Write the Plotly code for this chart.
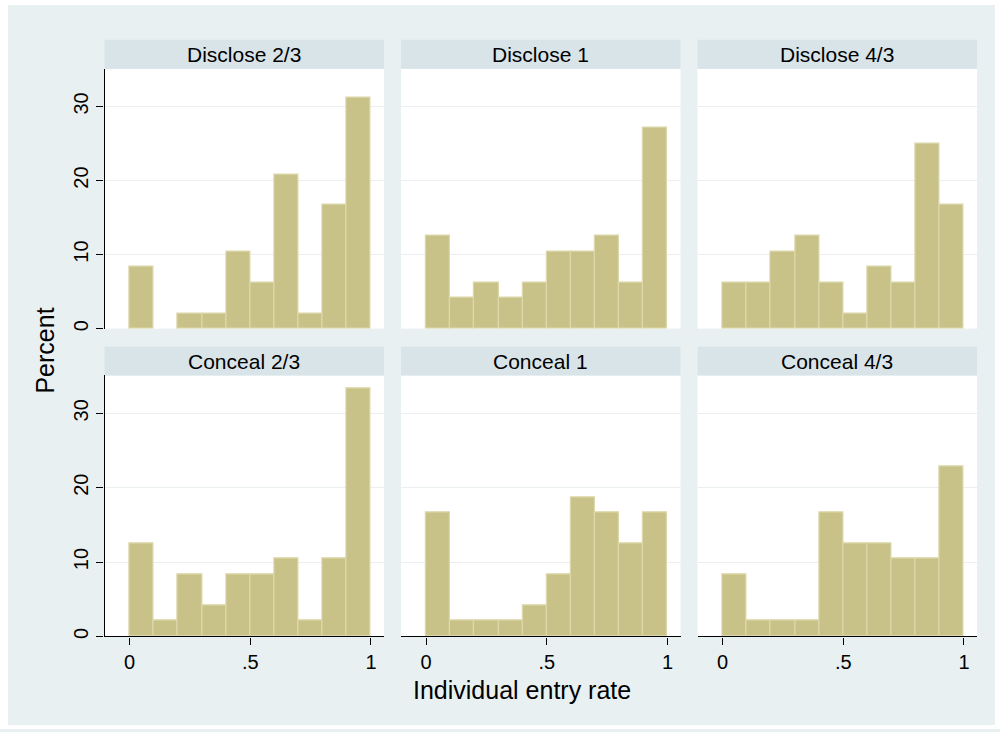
import plotly.graph_objects as go

# ---- data (percent per bin, bins of width 0.1 on [0,1]) ----
bin_centers = [0.05, 0.15, 0.25, 0.35, 0.45, 0.55, 0.65, 0.75, 0.85, 0.95]
panel_titles = ["Disclose 2/3", "Disclose 1", "Disclose 4/3",
                "Conceal 2/3", "Conceal 1", "Conceal 4/3"]
disclose_23 = [8.33, 0, 2.08, 2.08, 10.42, 6.25, 20.83, 2.08, 16.67, 31.25]
disclose_1 = [12.5, 4.17, 6.25, 4.17, 6.25, 10.42, 10.42, 12.5, 6.25, 27.08]
disclose_43 = [6.25, 6.25, 10.42, 12.5, 6.25, 2.08, 8.33, 6.25, 25.0, 16.67]
conceal_23 = [12.5, 2.08, 8.33, 4.17, 8.33, 8.33, 10.42, 2.08, 10.42, 33.33]
conceal_1 = [16.67, 2.08, 2.08, 2.08, 4.17, 8.33, 18.75, 16.67, 12.5, 16.67]
conceal_43 = [8.33, 2.08, 2.08, 2.08, 16.67, 12.5, 12.5, 10.42, 10.42, 22.92]
y_tick_vals = [0, 10, 20, 30]
x_tick_vals = [0, 0.5, 1]
x_tick_text = ["0", ".5", "1"]
x_title = "Individual entry rate"
y_title = "Percent"

series = [disclose_23, disclose_1, disclose_43, conceal_23, conceal_1, conceal_43]

W, H = 1000, 732
BG = "#E8F0F2"
STRIP = "#D9E4E9"
GRID = "#EAF0F2"
BAR = "#C9C288"
BAR_LINE = "#DDD7AA"
FONT = "Liberation Sans, Arial, Helvetica, sans-serif"

col_px = [(104.5, 384.0), (401.0, 680.5), (697.5, 977.0)]
row_px = [(69.0, 330.0), (377.0, 639.0)]   # plot area top/bottom in px
strip_px = [(40.0, 69.0), (348.0, 377.0)]


def px_x(v):
    return v / W


def px_y(v):
    return 1 - v / H


fig = go.Figure()
shapes = []
annotations = []

for i, vals in enumerate(series):
    r, c = divmod(i, 3)
    n = i + 1
    xa = "x" if n == 1 else f"x{n}"
    ya = "y" if n == 1 else f"y{n}"
    fig.add_trace(go.Bar(
        x=bin_centers, y=[v if v > 0 else None for v in vals], width=0.1,
        marker=dict(color=BAR, line=dict(color=BAR_LINE, width=1.2)),
        xaxis=xa, yaxis=ya, showlegend=False, hoverinfo="x+y",
    ))
    x0, x1 = col_px[c]
    t, b = row_px[r]
    xkey = "xaxis" if n == 1 else f"xaxis{n}"
    ykey = "yaxis" if n == 1 else f"yaxis{n}"
    bottom = r == 1
    left = c == 0
    fig.layout[xkey] = dict(
        domain=[px_x(x0), px_x(x1)], anchor=ya, range=[-0.104, 1.054],
        showgrid=False, zeroline=False,
        showline=bottom, linecolor="black", linewidth=1.3,
        ticks="outside" if bottom else "", ticklen=7, tickcolor="black", tickwidth=1,
        tickvals=x_tick_vals, ticktext=x_tick_text, showticklabels=bottom,
        tickfont=dict(family=FONT, size=20, color="black"),
        fixedrange=True,
    )
    fig.layout[ykey] = dict(
        domain=[px_y(b), px_y(t)], anchor=xa, range=[0, 35.1],
        showgrid=True, gridcolor=GRID, gridwidth=1.3, zeroline=False,
        showline=left, linecolor="black", linewidth=1.3,
        ticks="outside" if left else "", ticklen=7, tickcolor="black", tickwidth=1,
        tickvals=y_tick_vals, showticklabels=left, tickangle=-90,
        tickfont=dict(family=FONT, size=20, color="black"),
        fixedrange=True,
    )
    # strip header
    st, sb = strip_px[r]
    shapes.append(dict(type="rect", xref="paper", yref="paper", layer="below",
                       x0=px_x(x0), x1=px_x(x1), y0=px_y(sb), y1=px_y(st),
                       fillcolor=STRIP, line=dict(width=0)))
    annotations.append(dict(text=panel_titles[i], xref="paper", yref="paper",
                            x=px_x((x0 + x1) / 2), y=px_y((st + sb) / 2),
                            xanchor="center", yanchor="middle", showarrow=False,
                            font=dict(family=FONT, size=21, color="black")))

# white outer border around the light background
for (a0, a1, b0, b1) in [(0, 8, 0, H), (995, W, 0, H), (0, W, 0, 5), (0, W, 728, H)]:
    shapes.append(dict(type="rect", xref="paper", yref="paper", layer="below",
                       x0=px_x(a0), x1=px_x(a1), y0=px_y(b1), y1=px_y(b0),
                       fillcolor="white", line=dict(width=0)))

annotations.append(dict(text=x_title, xref="paper", yref="paper",
                        x=px_x(522), y=px_y(693), xanchor="center", yanchor="middle",
                        showarrow=False, font=dict(family=FONT, size=25, color="black")))
annotations.append(dict(text=y_title, xref="paper", yref="paper", textangle=-90,
                        x=px_x(45), y=px_y(352), xanchor="center", yanchor="middle",
                        showarrow=False, font=dict(family=FONT, size=25, color="black")))

fig.update_layout(
    width=W, height=H, margin=dict(l=0, r=0, t=0, b=0),
    paper_bgcolor=BG, plot_bgcolor="white",
    shapes=shapes, annotations=annotations, bargap=0,
    font=dict(family=FONT, color="black"),
)

fig.write_html("out.html", config={"displayModeBar": False},
               post_script="document.body.style.margin='0';document.body.style.overflow='hidden';")
